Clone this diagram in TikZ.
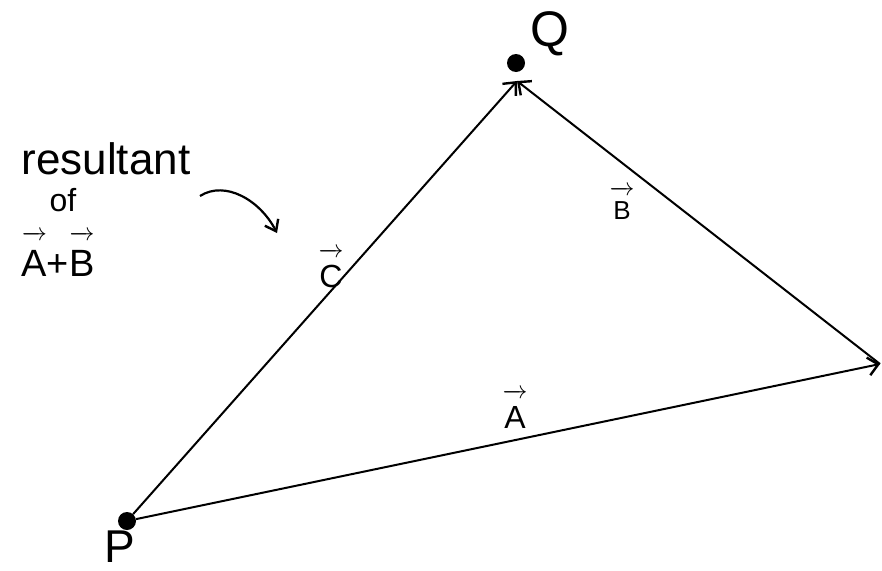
\documentclass[tikz,border=0pt]{standalone}
\usepackage{fontspec}
\setmainfont{Liberation Sans}
\usetikzlibrary{arrows.meta}
\tikzset{
  vec/.style={line width=2pt, -{Straight Barb[length=10pt,width=18pt,line width=2.4pt]}},
  dot/.style={circle, fill=black, inner sep=0pt, minimum size=18pt},
  lbl/.style={inner sep=0pt, font=\fontsize{32}{32}\selectfont},
  note/.style={inner sep=0pt, font=\fontsize{44}{44}\selectfont},
}
\newcommand{\hv}[1]{\ensuremath{\overrightarrow{\mbox{\rule{0pt}{0.95em}#1}}}}
\begin{document}
\begin{tikzpicture}[x=1pt,y=-1pt]
\useasboundingbox (0,0) rectangle (882,570);
\node[dot] (P) at (127,521) {};
\node[dot] (Q) at (516,63) {};
\coordinate (R) at (880,364);
\coordinate (Qin) at (517,81);
\draw[vec] (P) -- (R);
\draw[vec] (R) -- (Qin);
\draw[vec] (P) -- (Qin);
\node[note, font=\fontsize{50}{50}\selectfont, anchor=base] (Ql) at (550,46) {Q};
\node[note, font=\fontsize{46}{46}\selectfont, anchor=base] (Pl) at (120,562) {P};
\node[lbl, anchor=base] (Cl) at (331,287) {\hv{C}};
\node[lbl, anchor=base] (Al) at (515,428) {\hv{A}};
\node[lbl, font=\fontsize{26}{26}\selectfont, anchor=base] (Bl) at (622,219) {\hv{B}};
\node[note, anchor=base] (r1) at (106,174) {resultant};
\node[note, font=\fontsize{32}{32}\selectfont, anchor=base] (r2) at (63,211) {of};
\node[note, font=\fontsize{38}{38}\selectfont, anchor=base] (r3) at (58,276) {\hv{A}+\hv{B}};
\coordinate (cs) at (200,196);
\coordinate (ce) at (277,233);
\draw[line width=2.2pt, -{Straight Barb[length=10pt,width=15pt,line width=2.4pt]}] (cs) .. controls (225,180) and (260,200) .. (ce);
\end{tikzpicture}
\end{document}
